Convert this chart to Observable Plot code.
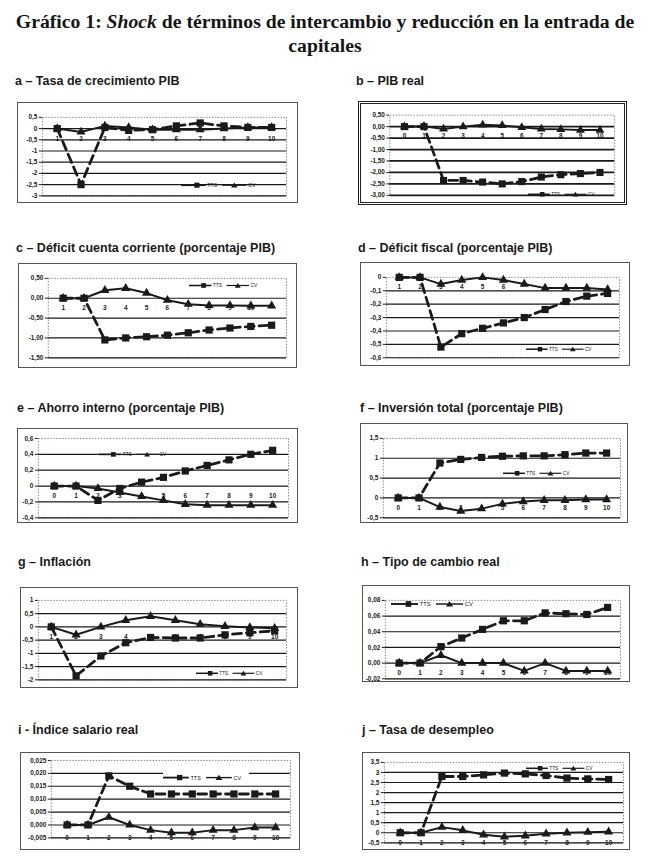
<!DOCTYPE html>
<html><head><meta charset="utf-8">
<script src="https://cdn.jsdelivr.net/npm/d3@7"></script>
<script src="https://cdn.jsdelivr.net/npm/@observablehq/plot@0.6"></script>
<style>
body{margin:0;background:#fff;width:650px;height:858px;position:relative;overflow:hidden;font-family:"Liberation Sans",Arial,sans-serif;}
#title{position:absolute;left:0;top:9px;width:650px;text-align:center;font-family:"Liberation Serif","Times New Roman",serif;font-weight:bold;font-size:19.7px;line-height:24px;color:#151515;}
.ptitle{position:absolute;font-weight:bold;font-size:12.5px;color:#1a1a1a;white-space:nowrap;line-height:14px;}
.box{position:absolute;border:1px solid #555;background:#fff;box-sizing:border-box;}
.box.thick{border:3px double #222;}
.box svg{position:absolute;left:0;top:0;}
.box .plot{left:-1px;top:-1px;}
.box.thick .plot{left:-3px;top:-3px;}
</style></head><body>
<div id="title">Gráfico 1: <i>Shock</i> de términos de intercambio y reducción en la entrada de<br>capitales</div>
<script>
// ---- categories ----
const x1to10 = [1,2,3,4,5,6,7,8,9,10];
const x1to11 = [1,2,3,4,5,6,7,8,9,10,11];
const x0to10 = [0,1,2,3,4,5,6,7,8,9,10];

// ---- a: Tasa de crecimiento PIB ----
const ttsA = [0,-2.5,0.05,-0.08,-0.05,0.12,0.25,0.12,0.05,0.05];
const cvA  = [0,-0.15,0.12,0.05,-0.05,-0.05,-0.05,0,0.05,0.05];
const ticksA = [0.5,0,-0.5,-1,-1.5,-2,-2.5,-3];
// ---- b: PIB real ----
const ttsB = [0,0,-2.35,-2.35,-2.42,-2.5,-2.4,-2.2,-2.1,-2.05,-2.0];
const cvB  = [0,0.02,-0.1,0,0.08,0.05,-0.03,-0.1,-0.12,-0.15,-0.15];
const ticksB = [0.5,0,-0.5,-1,-1.5,-2,-2.5,-3];
// ---- c: Déficit cuenta corriente ----
const ttsC = [0,0,-1.05,-1.0,-0.97,-0.93,-0.87,-0.8,-0.75,-0.71,-0.68];
const cvC  = [0,0,0.2,0.25,0.13,-0.05,-0.15,-0.18,-0.18,-0.19,-0.19];
const ticksC = [0.5,0,-0.5,-1,-1.5];
// ---- d: Déficit fiscal ----
const ttsD = [0,0,-0.52,-0.42,-0.38,-0.34,-0.3,-0.24,-0.18,-0.14,-0.12];
const cvD  = [0,0,-0.05,-0.02,0,-0.02,-0.05,-0.08,-0.08,-0.08,-0.09];
const ticksD = [0,-0.1,-0.2,-0.3,-0.4,-0.5,-0.6];
// ---- e: Ahorro interno ----
const ttsE = [0,0,-0.18,-0.03,0.05,0.11,0.19,0.26,0.33,0.40,0.45];
const cvE  = [0,0,-0.03,-0.08,-0.13,-0.18,-0.23,-0.24,-0.24,-0.24,-0.24];
const ticksE = [0.6,0.4,0.2,0,-0.2,-0.4];
// ---- f: Inversión total ----
const ttsF = [0,0,0.88,0.97,1.02,1.05,1.06,1.06,1.09,1.13,1.13];
const cvF  = [0,0,-0.23,-0.33,-0.27,-0.15,-0.09,-0.06,-0.06,-0.04,-0.04];
const ticksF = [1.5,1,0.5,0,-0.5];
// ---- g: Inflación ----
const ttsG = [0,-1.85,-1.1,-0.6,-0.4,-0.42,-0.42,-0.3,-0.22,-0.15];
const cvG  = [0,-0.3,0,0.25,0.4,0.25,0.1,0.02,-0.02,-0.05];
const ticksG = [1,0.5,0,-0.5,-1,-1.5,-2];
// ---- h: Tipo de cambio real ----
const ttsH = [0,0,0.021,0.032,0.043,0.054,0.054,0.064,0.063,0.062,0.071];
const cvH  = [0,0,0.01,0,0,0,-0.01,0,-0.01,-0.01,-0.01];
const ticksH = [0.08,0.06,0.04,0.02,0,-0.02];
// ---- i: Índice salario real ----
const ttsI = [0,0,0.019,0.015,0.012,0.012,0.012,0.012,0.012,0.012,0.012];
const cvI  = [0,0,0.003,0,-0.002,-0.003,-0.003,-0.002,-0.002,-0.001,-0.001];
const ticksI = [0.025,0.02,0.015,0.01,0.005,0,-0.005];
// ---- j: Tasa de desempleo ----
const ttsJ = [0,0,2.8,2.8,2.88,2.97,2.93,2.85,2.72,2.68,2.65];
const cvJ  = [0,0,0.28,0.12,-0.1,-0.2,-0.15,-0.05,0,0.03,0.05];
const ticksJ = [3.5,3,2.5,2,1.5,1,0.5,0,-0.5];

const titles = ["a – Tasa de crecimiento PIB","b – PIB real","c – Déficit cuenta corriente (porcentaje PIB)","d – Déficit fiscal (porcentaje PIB)","e – Ahorro interno (porcentaje PIB)","f – Inversión total (porcentaje PIB)","g – Inflación","h – Tipo de cambio real","i - Índice salario real","j – Tasa de desempleo"];

// layout (positions/styles kept separate from data)
const panels = [
  {x:x1to10,tts:ttsA,cv:cvA,ticks:ticksA,dec:null,title:[15,74],box:[17,102,281,101],m:[15,10,7,25],leg:[163,82,82]},
  {x:x0to10,tts:ttsB,cv:cvB,ticks:ticksB,dec:2,title:[356,74],box:[358,101,269,104],m:[14,7,8,32],leg:[167,90,73],thick:true},
  {x:x1to11,tts:ttsC,cv:cvC,ticks:ticksC,dec:2,title:[16,241],box:[18,263,279,105],m:[15,9,10,30],leg:[170,21,75],labels:x1to10},
  {x:x1to11,tts:ttsD,cv:cvD,ticks:ticksD,dec:null,title:[358,241],box:[360,262,270,104],m:[15,9,8,26],leg:[165,86,72],labels:[1,2,3,4,5,6]},
  {x:x0to10,tts:ttsE,cv:cvE,ticks:ticksE,dec:null,title:[17,401],box:[17,428,281,95],m:[10,8,5,21],leg:[81,25,74]},
  {x:x0to10,tts:ttsF,cv:cvF,ticks:ticksF,dec:null,title:[360,401],box:[360,423,268,100],m:[15,6,5,23],leg:[142,49,73]},
  {x:x1to10,tts:ttsG,cv:cvG,ticks:ticksG,dec:null,title:[18,555],box:[20,587,278,101],m:[13,10,8,18],leg:[175,85,73]},
  {x:x0to10,tts:ttsH,cv:cvH,ticks:ticksH,dec:2,title:[361,555],box:[362,585,268,97],m:[15,8,3,23],leg:[28,18,90]},
  {x:x0to10,tts:ttsI,cv:cvI,ticks:ticksI,dec:3,title:[18,723],box:[20,752,280,98],m:[8,8,12,31],leg:[142,25,86],bottom:true,legBg:true},
  {x:x0to10,tts:ttsJ,cv:cvJ,ticks:ticksJ,dec:null,title:[362,723],box:[362,752,268,98],m:[10,5,7,22],leg:[163,15,73],bottom:true}
];

const INK = "#1a1a1a";
const FONT = "Liberation Sans, Arial, sans-serif";

function legend(w, bg){
  const s = w/80;
  const svg = d3.create("svg").attr("width", w).attr("height", 16*s).attr("viewBox","0 -3 80 16");
  if (bg) svg.append("rect").attr("x",-2).attr("y",-3).attr("width",84).attr("height",14).attr("fill","#fff");
  const g = svg.append("g").attr("fill",INK).attr("stroke",INK);
  g.append("line").attr("x1",0).attr("x2",24).attr("y1",5).attr("y2",5).attr("stroke-width",1.7);
  g.append("rect").attr("x",13).attr("y",2.5).attr("width",5).attr("height",5).attr("stroke","none");
  g.append("text").attr("x",25.5).attr("y",6.8).attr("font-size",5.2).attr("stroke","none").attr("font-family",FONT).text("TTS");
  g.append("line").attr("x1",40).attr("x2",64).attr("y1",5).attr("y2",5).attr("stroke-width",1.3);
  g.append("path").attr("d","M52,2.3L55.2,7.3L48.8,7.3Z").attr("stroke","none");
  g.append("text").attr("x",65.5).attr("y",6.8).attr("font-size",5.2).attr("stroke","none").attr("font-family",FONT).text("CV");
  return svg.node();
}

panels.forEach((p, k) => {
  const t = document.createElement("div");
  t.className = "ptitle";
  t.style.left = p.title[0] + "px"; t.style.top = p.title[1] + "px";
  t.textContent = titles[k];
  document.body.appendChild(t);

  const [bx, by, w, h] = p.box;
  const box = document.createElement("div");
  box.className = "box" + (p.thick ? " thick" : "");
  Object.assign(box.style, {left: bx+"px", top: by+"px", width: w+"px", height: h+"px"});
  document.body.appendChild(box);

  const data = p.x.map((x, i) => ({x, tts: p.tts[i], cv: p.cv[i]}));
  const fmt = p.dec == null ? d => String(d).replace(".", ",") : d => d.toFixed(p.dec).replace(".", ",");
  const ymin = d3.min(p.ticks), ymax = d3.max(p.ticks);
  const labelY = p.bottom ? ymin : 0;
  const labs = p.labels || p.x;
  const plot = Plot.plot({
    width: w, height: h,
    marginTop: p.m[0], marginRight: p.m[1], marginBottom: p.m[2], marginLeft: p.m[3],
    style: {background: "transparent", fontFamily: FONT, overflow: "visible", color: INK},
    x: {type: "point", domain: p.x, padding: 0.5, axis: null},
    y: {domain: [ymin, ymax]},
    marks: [
      Plot.frame({stroke: "#8a8a8a", strokeDasharray: "1.5,1.5"}),
      Plot.ruleY(p.ticks.filter(d => d !== ymax), {stroke: INK, strokeWidth: p.thick ? 1.8 : 1.2}),
      Plot.axisY({ticks: p.ticks, tickFormat: fmt, tickSize: 3, tickPadding: 2, fontSize: 6.5, fontWeight: "bold", stroke: INK}),
      Plot.text(labs, {x: d => d, y: () => labelY, dy: p.bottom ? 0 : 10, text: d => String(d), fontSize: 6.5, fontWeight: "bold", fill: INK}),
      Plot.line(data, {x: "x", y: "cv", stroke: INK, strokeWidth: 2}),
      Plot.dot(data, {x: "x", y: "cv", symbol: "triangle", r: 3.4, fill: INK}),
      Plot.line(data, {x: "x", y: "tts", stroke: INK, strokeWidth: 2.8, strokeDasharray: "9,5"}),
      Plot.dot(data, {x: "x", y: "tts", symbol: "square", r: 4.1, fill: INK})
    ]
  });
  plot.classList.add("plot");
  box.appendChild(plot);

  const lg = legend(p.leg[2], p.legBg);
  lg.style.left = p.leg[0] + "px";
  lg.style.top = (p.leg[1] - 8*p.leg[2]/80) + "px";
  box.appendChild(lg);
});
</script>
</body></html>
